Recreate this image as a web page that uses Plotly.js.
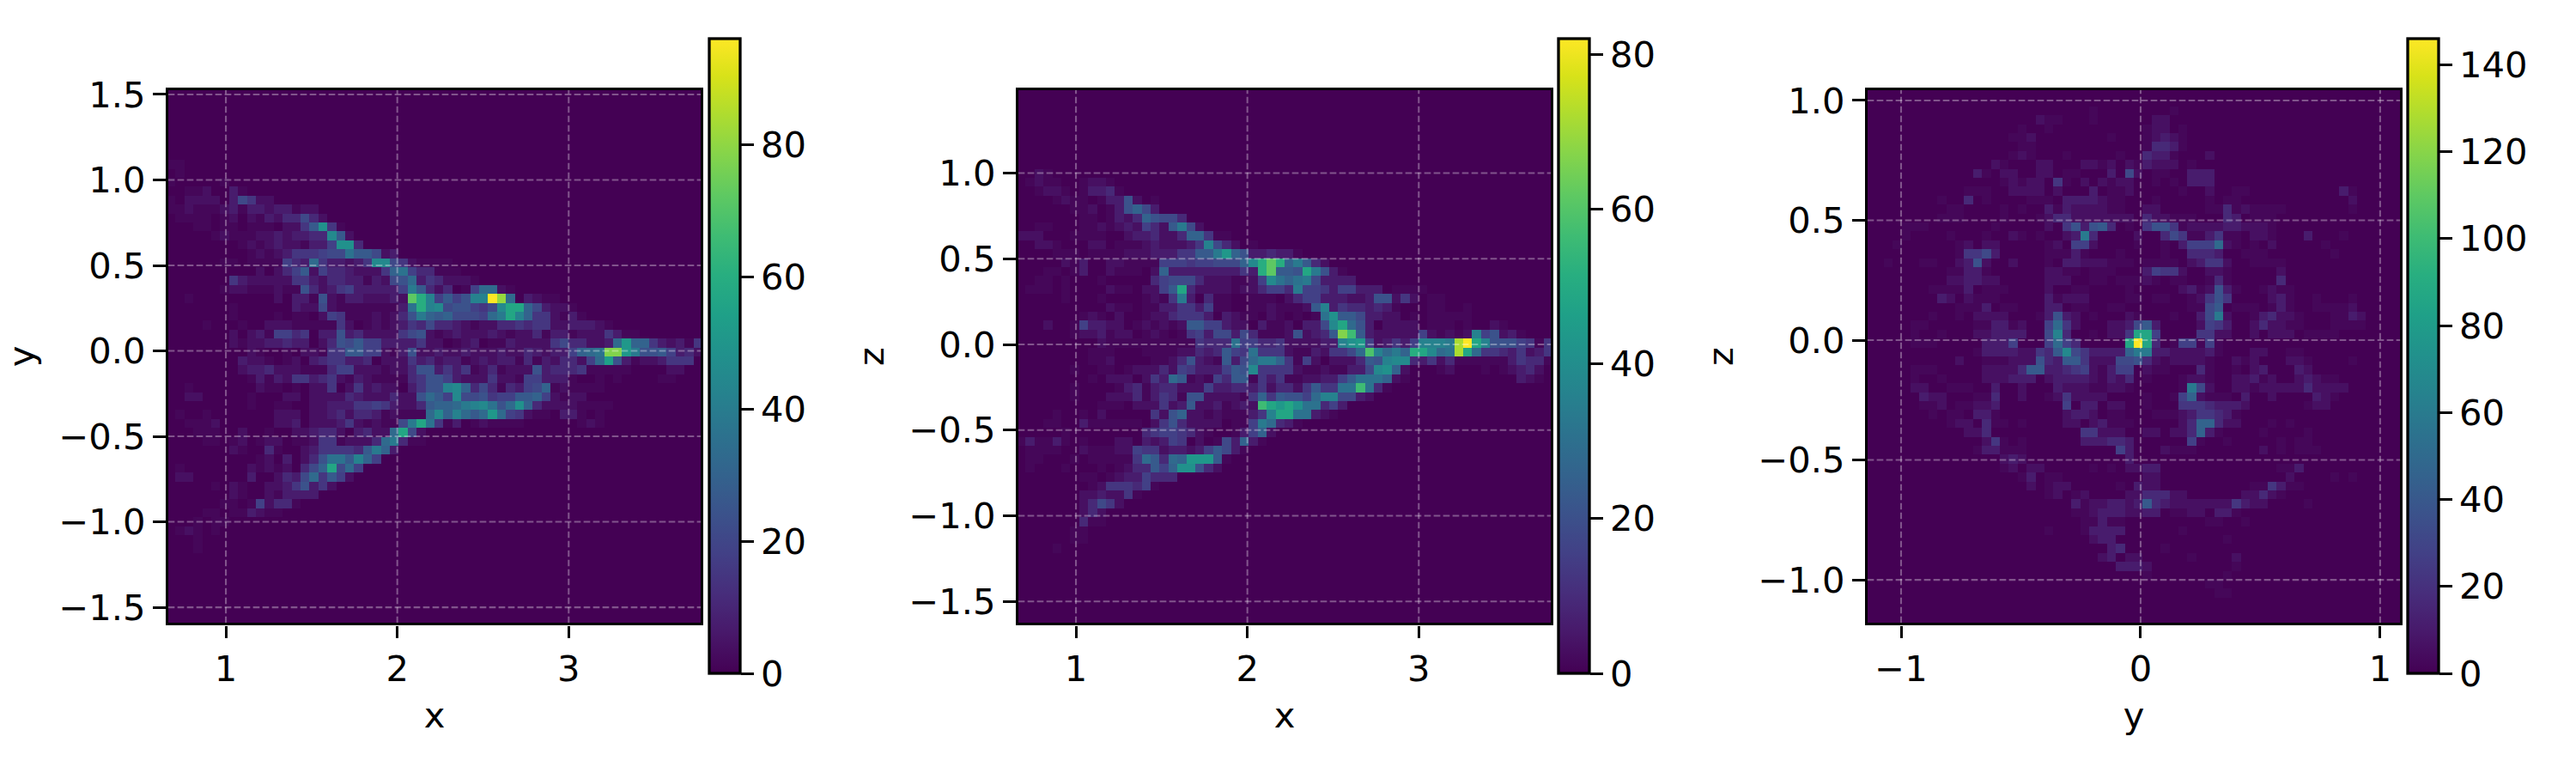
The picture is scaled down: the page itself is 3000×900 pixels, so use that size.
<!DOCTYPE html>
<html>
<head>
<meta charset="utf-8">
<script src="https://cdn.plot.ly/plotly-3.0.1.min.js"></script>
<style>html,body{margin:0;padding:0;background:#fff}#chart{width:3000px;height:900px}</style>
</head>
<body>
<div id="chart"></div>
<script>
// Each string is one row of the histogram, top row first; each base-36 character is a
// colour level (0 = empty, w = 32 = top of the colour bar).
const rowsXY = ["","","","","","","","",
"11","01","1000001","001120031","1022220375 22","1121112313 3233122","0111101202 13244742",
"0001101101 1102259g51","0000012111 22323344f9 2","0000000012 123221336g g4",
"0000000001 2123555677 c99723","0000001101 111643b533 235ff75211 11",
"0000000000 2024692644 32225ac644 111","0000000532 2222553244 3313278b35 42221",
"0000001221 1121184235 6333336d94 24016bb21","0010000000 0020331821 3322232oke 6968eewrb0 3211",
"0000000100 0000322721 1111113cke f788657fjj a73221","0000000100 0010110265 1112124 8da 9a7776bdje a552131",
"0000100010 0222111115 2012123547 4432122445 4552233321","0000000202 3166450338 3422225782 1232223212 2413312225 311",
"0000000212 2334330248 7966333352 2012301132 2225744223 bhaa532315","0000000002 1001022155 9966213822 3223222322 432336abcq qhd8896342",
"0000000032 2101203455 3340222534 2331232331 41324426bi 8312235550","0000000023 3422211146 6222122488 3535124122 2834445111 11000022",
"0000000001 3132553452 1321111458 8632225221 6633310010 1000011","0010000000 2110102250 2523220358 8efa474143 67a1211110",
"0022000001 0002202222 432224228b 96f7785669 9a62122","0000000001 0011002233 3556532249 aabdefc8bg a422221111",
"0100100000 0022202234 244312111b faeb9bhb65 211033101","0011120000 0022302223 5212117djc 5130121111 000000121",
"0001110020 0100223442 03422bj720","0000110120 1220112551 2224bd4110","0000000210 0410023555 549da3",
"0000000000 1203024 8cc 9ea6","0100000002 1212047aj7 b6","0220000003 002437b596 2","0000010210 022358352",
"0000000210 0213333","0000001101 62441","0000110113 211","0001011","0121010","0001","0001",
"","","","","","","",""];

const rowsXZ = ["","","","","","","","","",
"0021","0121100122 1","0012210133 41","0000121101 338201","0000001120 138a73","0000000110 1324a8774",
"0011000112 12326429d7 2","2220001111 002334224a a511","0022100022 0111232223 5e74201",
"0000111011 1122233355 99dha83343 31","0000021300 2211116665 66777afkok ad942","0001101300 211102a333 3333353ko9 98jd831",
"0011010001 0000046777 42221126fc acd73333","0111010000 21102269j4 2222122466 4d66536633 301111",
"0000010001 00001215d3 0411001110 2466333223 88252011","0000000000 2110113355 3611001121 1129e35443 4310001100 1",
"0000000121 0200122455 5303211021 0101cg9973 3220101111 1","0002001633 2201212129 9663220311 20337fjb83 0222201110 10021",
"0000001223 1220121015 6377374111 282349qm93 2222262121 2e68231","0000000002 1111111111 5444c66445 222233egh6 23536eeeds wje8886515",
"0000000011 1000111122 434965c555 21132557bn ebdakjfbcs jb55435235","0000000011 2000011248 321937bdda 5162022249 8eff435241 1111135441",
"0000001001 1012224265 333698f555 5211211337 fga2000120 001012342","0000000010 2220253b91 2164991535 11223369cc ca21000000 000000321",
"0000001000 0134134422 2633443524 425955ccmc 41","0000001000 2224135418 8222215a59 886bee7732","0000000001 1102225239 2231232mjh jgcc463",
"0000100102 00000528a2 21211135ej jcc321","0001100311 1111025842 2220116db4 31","0000010000 0000456654 2100136a2",
"1311310100 0220323650 20173a31","0111100211 1226552332 369731","0110001011 1115b94bah hh91","0100010001 0124496agg 842",
"0000000110 12336444","0000000012 555461","0000000223 2251","0000000247 52","0000000242","0000000411","00000011","00000011","00001",
"","","","","","","",""];

const rowsYZ = ["","",
"0000000000 0000000000 0000010000 0000100000",
"0000000000 0000000002 1100010000 0022",
"0000000000 0000000100 1000000000 0122010",
"0000000000 0000001120 0000000100 012321",
"0000000000 0000000110 0000000000 014431",
"0000000000 0000001210 0010000010 043310002",
"0000000000 0000210002 2000221202 1322201",
"0000000000 0031022002 2011000307 201100333",
"0000000000 0000012122 0510202122 001010333",
"0000000000 0111002222 0200030112 0000010020 0110000000 00031",
"0000000010 0401000011 1033332110 0010000010 1100000000 00002",
"0000000001 1000010100 3132222110 0220000011 4121111000 00001",
"0000000011 1000010001 2442222222 0422111000 430111",
"0000111000 0000100000 2058389401 0588512222 332221",
"0000100001 0001002101 0023d40000 2004751135 1102210003 0001",
"0001000000 1202200000 1206620000 100103666b 2101020000 01",
"0000000000 1557300000 1113100010 0001004443 0011100000 001",
"0010001100 2382002000 1033222111 0111102355 2001111",
"0000000001 1331000000 2211011100 0365520022 1000002",
"0000000002 2332200000 2220011011 1210110014 1000004",
"0000000111 1301110000 2001100001 0000023128 31001211",
"0000000032 0211100000 3122200001 1011001258 5000023100 10001",
"0000000000 1113011000 3301100110 0000001179 0111013100 11112",
"0000000100 1022220001 3832010002 100010037d 2001342210 001132",
"0000011000 0011331200 6b52000223 7930000265 3002422110 001111",
"0000010010 0022333300 7e40010225 jj60000552 2002022201 111",
"0000011100 0003336000 6b6400000j wj40166161",
"0000000000 0013333225 49f753333a dd33222231 000220011",
"0000000000 2001112228 4399522277 8421222210 0212000221 00001",
"0000011100 0002222499 3345621366 0211000410 0102300032",
"0000010010 0002223330 2333321324 0100012210 0223120023 211",
"0000022001 1100300200 0322211221 000001d720 0221222224 2222",
"0000003220 0011400200 1252222000 010016a211 1030020000 321",
"0000001120 1122300000 0060330220 0100055543 3320000001 22",
"0000000101 1033100000 0023320110 0011123554 31",
"0000000001 2204110100 0022023111 0000024aa4 22000101",
"0000000000 0224000000 0000552220 0220224a31 0000100001",
"0000000000 0002510100 0000333443 0000006100 1000001011",
"0000000000 0013311100 0000000063 0002111000 0000201011 1",
"0000000000 0000023200 0000000003",
"0000000000 0000012022 0000010102 2330000000 0000001130",
"0000000000 0000000130 1100000000 0220000000 0000000200 00101",
"0000000000 0000000020 1220000010 3220000000 0001153110",
"0000000000 0000000000 1201200002 2444220000 0022421",
"0000000000 0000000000 0003122332 3943222222 2532200001",
"0000000000 0000000000 0001123332 2330112203 31",
"0000000000 0000000000 0000113110 0000000011 001",
"0000000000 0000000000 1000133330 0000010",
"0000000000 0000000000 0000023300 0000000000 1",
"0000000000 0000000000 0000000340 0001",
"0000000000 0000000000 0000002302 2000001000 02",
"0000000000 0000000000 0000000033 3200000000 01",
"0000000000 0000000000 0000000000 0100000000 1",
"0000000000 0000000000 0000000000 0000000011",
"0000000000 0000000000 0000000000 0000000001 1",
"","",""];

// The faintest colour levels sit closer to empty than the rest of the scale.
const faintLevels = [0, 0.5, 1.3, 2.4, 3.6];
const maxXY = 96, maxXZ = 82, maxYZ = 146;
const edgesXa = [0.654, 3.78], edgesYa = [-1.60, 1.535];
const edgesXb = [0.654, 3.78], edgesYb = [-1.634, 1.494];
const edgesXc = [-1.147, 1.09], edgesYc = [-1.186, 1.05];
const ticksXa = [1, 2, 3], ticksYa = [-1.5, -1, -0.5, 0, 0.5, 1, 1.5];
const ticksXb = [1, 2, 3], ticksYb = [-1.5, -1, -0.5, 0, 0.5, 1];
const ticksXc = [-1, 0, 1], ticksYc = [-1, -0.5, 0, 0.5, 1];
const cbTicksA = [0, 20, 40, 60, 80];
const cbTicksB = [0, 20, 40, 60, 80];
const cbTicksC = [0, 20, 40, 60, 80, 100, 120, 140];
const labelA = ["x", "y"], labelB = ["x", "z"], labelC = ["y", "z"];

const W = 3000, H = 900, N = 60;
const plotTop = 103, plotBottom = 727, plotW = 624;
const lw = 3.3, inset = lw / 2;
const FONT = {family: "DejaVu Sans", size: 41.67, color: "#000"};

function decode(rows, max) {
  const step = max / 32;
  return rows.slice().reverse().map(function (r) {
    const s = r.replace(/ /g, "").padEnd(N, "0").slice(0, N);
    return Array.from(s).map(function (c) {
      const level = parseInt(c, 36);
      return (level < faintLevels.length ? faintLevels[level] : level) * step;
    });
  });
}

const panels = [
  {rows: rowsXY, max: maxXY, ex: edgesXa, ey: edgesYa, tx: ticksXa, ty: ticksYa, cb: cbTicksA, lab: labelA, left: 194, cbx: 826, yfmt: ".1f"},
  {rows: rowsXZ, max: maxXZ, ex: edgesXb, ey: edgesYb, tx: ticksXb, ty: ticksYb, cb: cbTicksB, lab: labelB, left: 1184, cbx: 1815, yfmt: ".1f"},
  {rows: rowsYZ, max: maxYZ, ex: edgesXc, ey: edgesYc, tx: ticksXc, ty: ticksYc, cb: cbTicksC, lab: labelC, left: 2173, cbx: 2804, yfmt: ".1f"}
];

const traces = [], layout = {
  width: W, height: H, margin: {l: 0, r: 0, t: 0, b: 0, pad: 0},
  paper_bgcolor: "#fff", plot_bgcolor: "#fff", font: FONT, showlegend: false, shapes: []
};

panels.forEach(function (p, i) {
  const sfx = i === 0 ? "" : String(i + 1);
  const dx = (p.ex[1] - p.ex[0]) / N, dy = (p.ey[1] - p.ey[0]) / N;
  traces.push({
    type: "heatmap", z: decode(p.rows, p.max),
    x0: p.ex[0] + dx / 2, dx: dx, y0: p.ey[0] + dy / 2, dy: dy,
    xaxis: "x" + sfx, yaxis: "y" + sfx,
    colorscale: "Viridis", zmin: 0, zmax: p.max, zsmooth: false, hoverinfo: "skip",
    colorbar: {
      x: p.cbx / W, xanchor: "left", xpad: 0, ypad: 0,
      y: (H - 784) / H, yanchor: "bottom", len: 739, lenmode: "pixels",
      thickness: 36, thicknessmode: "pixels",
      outlinecolor: "#000", outlinewidth: lw, borderwidth: 0,
      tickmode: "array", tickvals: p.cb, ticks: "outside", ticklen: 14.6, tickwidth: lw, tickcolor: "#000",
      tickfont: FONT
    }
  });
  const insetX = inset / plotW * (p.ex[1] - p.ex[0]);
  const insetY = inset / (plotBottom - plotTop) * (p.ey[1] - p.ey[0]);
  const common = {
    showgrid: false, zeroline: false, showline: true, mirror: true, linecolor: "#000", linewidth: lw,
    ticks: "outside", ticklen: 14.6, tickwidth: lw, tickcolor: "#000", tickfont: FONT, tickmode: "array", automargin: false
  };
  layout["xaxis" + sfx] = Object.assign({}, common, {
    domain: [(p.left + inset) / W, (p.left + plotW - inset) / W],
    range: [p.ex[0] + insetX, p.ex[1] - insetX],
    anchor: "y" + sfx, tickvals: p.tx, tickformat: "d",
    title: {text: p.lab[0], font: FONT, standoff: 16}
  });
  layout["yaxis" + sfx] = Object.assign({}, common, {
    domain: [(H - plotBottom + inset) / H, (H - plotTop - inset) / H],
    range: [p.ey[0] + insetY, p.ey[1] - insetY],
    anchor: "x" + sfx, tickvals: p.ty, tickformat: p.yfmt,
    title: {text: p.lab[1], font: FONT, standoff: 16}
  });
  const gridLine = {color: "rgba(255,255,255,0.33)", width: 2.08, dash: "7.7px,3.3px"};
  p.tx.forEach(function (t) {
    layout.shapes.push({type: "line", layer: "above", xref: "x" + sfx, yref: "y" + sfx, x0: t, x1: t, y0: p.ey[0] + insetY, y1: p.ey[1] - insetY, line: gridLine});
  });
  p.ty.forEach(function (t) {
    layout.shapes.push({type: "line", layer: "above", xref: "x" + sfx, yref: "y" + sfx, x0: p.ex[0] + insetX, x1: p.ex[1] - insetX, y0: t, y1: t, line: gridLine});
  });
});

Plotly.newPlot("chart", traces, layout, {displayModeBar: false, responsive: false});
</script>
</body>
</html>
